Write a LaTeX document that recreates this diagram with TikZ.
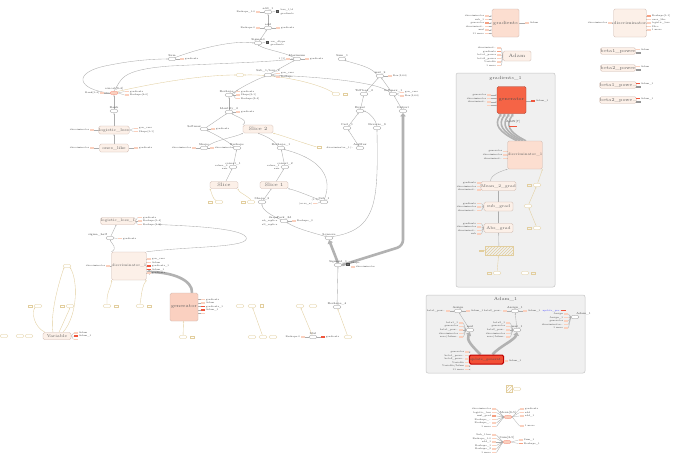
\documentclass[tikz,border=0pt]{standalone}
\usepackage{fontspec}
\usetikzlibrary{shapes.geometric,arrows.meta,positioning,calc,patterns}
\definecolor{opline}{RGB}{150,150,150}
\definecolor{edgegrey}{RGB}{172,172,172}
\definecolor{fatgrey}{RGB}{178,178,178}
\definecolor{yelline}{RGB}{226,206,158}
\definecolor{metafill}{RGB}{252,240,232}
\definecolor{metaline}{RGB}{205,182,172}
\definecolor{gradfill}{RGB}{252,222,208}
\definecolor{genfill}{RGB}{250,208,192}
\definecolor{hotfill}{RGB}{245,100,70}
\definecolor{chiplight}{RGB}{250,208,190}
\definecolor{chipmid}{RGB}{246,160,130}
\definecolor{chipred}{RGB}{240,85,60}
\definecolor{contfill}{RGB}{240,240,240}
\definecolor{contline}{RGB}{196,196,196}
\definecolor{updfill}{RGB}{242,80,55}
\pgfdeclarelayer{bg}
\pgfdeclarelayer{edges}
\pgfsetlayers{bg,edges,main}

\begin{document}
\begin{tikzpicture}[x=1pt, y=-1pt,
    op/.style={ellipse, draw=opline, fill=white, line width=0.3pt,
        minimum width=8pt, minimum height=3.6pt, inner sep=0pt},
    yop/.style={op, draw=yelline},
    hotop/.style={op, fill=chiplight, draw=chipred!70},
    meta/.style={rectangle, rounded corners=1.5pt, draw=metaline, fill=metafill,
        line width=0.35pt, inner sep=0pt, font=\fontsize{4.1}{5}\selectfont, text=black!62},
    cont/.style={rectangle, rounded corners=2pt, draw=contline, fill=contfill, line width=0.5pt},
    title/.style={font=\fontsize{4.5}{5}\selectfont, text=black!65, inner sep=0pt},
    oplbl/.style={font=\fontsize{2.8}{3}\selectfont, inner sep=0.2pt, text=black!75},
    lbl/.style={font=\fontsize{2.4}{2.6}\selectfont, inner sep=0.3pt, text=black!75},
    chip/.style={rectangle, fill=chiplight, minimum width=4.5pt, minimum height=1.8pt, inner sep=0pt},
    chipm/.style={chip, fill=chipmid},
    chipr/.style={chip, fill=chipred},
    ychip/.style={chip, fill=none, draw=yelline, line width=0.2pt},
    icon/.style={rectangle, draw=black!70, fill=black!55, minimum size=2.6pt, inner sep=0pt},
    edge/.style={draw=edgegrey, line width=0.35pt, -{Stealth[length=1.4pt,width=1.2pt]}},
    stub/.style={draw=edgegrey, line width=0.25pt},
    yedge/.style={edge, draw=yelline},
    fat/.style={draw=fatgrey, line width=2.6pt, -{Triangle[length=3.5pt,width=5.5pt]}},
    bundle/.style={draw=fatgrey, line width=1.6pt, -{Triangle[length=2.5pt,width=3pt]}}
]
\begin{pgfonlayer}{bg}
\fill[white] (0,0) rectangle (690,466);
\node[cont, minimum width=99pt, minimum height=214pt] (grad1box) at (505.5,180) {};
\node[cont, minimum width=159pt, minimum height=78pt] (adam1box) at (505.5,334) {};
\end{pgfonlayer}
\useasboundingbox (0,0) rectangle (690,466);

% top spine
\node[op, label={[oplbl]90:add\_1}] (add1) at (268,12) {};
\node[chip, label={[lbl]180:Reshape\_1:0}] (add1-in) at (258,12) {};
\node[icon] (add1-ic) at (277,11) {};
\node[lbl, anchor=west] (add1-o1) at (280,10) {loss\_1/d};
\node[lbl, anchor=west] (add1-o2) at (280,13.5) {gradients};
\node[op, label={[oplbl]90:add}] (add) at (268,28) {};
\node[chip, label={[lbl]180:Reshape:0}] (add-in) at (258,28) {};
\node[chip, label={[lbl]0:gradients}] (add-out) at (278,28) {};
\node[op, label={[oplbl]90:Sigmoid}] (sig) at (258,43) {};
\node[icon] (sig-ic) at (267,42) {};
\node[lbl, anchor=west] (sig-o1) at (270,41.5) {var\_dtype};
\node[lbl, anchor=west] (sig-o2) at (270,44.5) {gradients};

\node[op, label={[oplbl]90:Sum}] (sum) at (172,59) {};
\node[chip, label={[lbl]0:gradients}] (sum-out) at (182,59) {};
\node[op, label={[oplbl]90:Maximum}] (maxi) at (297,59) {};
\node[chip, label={[lbl]180:{1 {[}1{]}}}] (maxi-in) at (288,59) {};
\node[chip, label={[lbl]0:gradients}] (maxi-out) at (307,59) {};
\node[op, label={[oplbl]90:Sum\_1}] (sum1) at (342,59) {};
\node[op, label={[oplbl]90:Sub\_1/loss\_2}] (subloss) at (268,75) {};
\node[chip, label={[lbl]0:gen\_vars}] (subloss-o1) at (278,73.5) {};
\node[chip, label={[lbl]0:Reshape}] (subloss-o2) at (278,77) {};
\node[yop] (ya) at (240,75) {};
\node[op, label={[oplbl]90:mul\_2}] (mul2) at (380,76) {};
\node[chip, label={[lbl]0:{Rcn(3,64)}}] (mul2-out) at (390,76) {};

% left column
\node[hotop, label={[oplbl]90:concat{[}3-4{]}}] (concat) at (114,93) {};
\node[chip, label={[lbl]180:Rank{[}1-4{]}}] (concat-in) at (102,93) {};
\node[chip, label={[lbl]0:gradients}] (concat-o1) at (127,91.5) {};
\node[chip, label={[lbl]0:Reshape{[}4-0{]}}] (concat-o2) at (127,95) {};
\node[op, label={[oplbl]90:Rank}] (rank) at (114,111) {};
\node[meta, minimum width=29pt, minimum height=8pt] (logloss) at (114,130) {logistic\_loss};
\node[chip, label={[lbl]180:discriminator}] (logloss-in) at (92,130) {};
\node[chip, label={[lbl]0:gen\_vars}] (logloss-o1) at (136,128.5) {};
\node[chip, label={[lbl]0:Shape{[}1-1{]}}] (logloss-o2) at (136,131.5) {};
\node[meta, minimum width=29pt, minimum height=8pt] (ones) at (114,148) {ones\_like};
\node[chip, label={[lbl]180:discriminator}] (ones-in) at (92,148) {};
\node[chip, label={[lbl]0:gradients}] (ones-out) at (136,148) {};

% middle column
\node[op, label={[oplbl]90:Reshape\_2}] (resh2) at (229,95) {};
\node[chip, label={[lbl]0:gradients}] (resh2-o1) at (238,91.5) {};
\node[chip, label={[lbl]0:Shape{[}3-1{]}}] (resh2-o2) at (238,95) {};
\node[chip, label={[lbl]0:Reshape{[}3-4{]}}] (resh2-o3) at (238,98.5) {};
\node[op, label={[oplbl]90:Identity\_2}] (ident2) at (229,112) {};
\node[chip, label={[lbl]0:gradients}] (ident2-out) at (238,112) {};
\node[op, label={[oplbl]150:Softmax}] (softmax) at (204,129) {};
\node[chip, label={[lbl]0:gradients}] (softmax-out) at (213,129) {};
\node[meta, minimum width=30pt, minimum height=8pt, font=\fontsize{4.8}{5}\selectfont] (slice2) at (258,129) {Slice 2};
\node[op, label={[oplbl]90:Shape}] (shape) at (204,148) {};
\node[chip, label={[lbl]180:discriminator}] (shape-in) at (194,148) {};
\node[chip, label={[lbl]0:discriminator}] (shape-out) at (212,148) {};
\node[op, label={[oplbl]90:Reshape}] (reshape) at (237,148) {};
\node[op, label={[oplbl]90:Reshape\_1}] (reshape1) at (281,148) {};

% right of middle
\node[yop] (yb) at (336,94) {};
\node[ychip] (yb-out) at (345,94) {};
\node[op, label={[oplbl]90:ToFloat\_2}] (tofloat2) at (364,94) {};
\node[op, label={[oplbl]90:Softmax\_1}] (softmax1) at (393,94) {};
\node[chip, label={[lbl]0:gen\_vars}] (softmax1-o1) at (402,92.5) {};
\node[chip, label={[lbl]0:{Rcn(3,64)}}] (softmax1-o2) at (402,96) {};
\node[op, label={[oplbl]90:Equal}] (equal) at (360,111) {};
\node[op, label={[oplbl]90:Output}] (output) at (403,111) {};
\node[op, label={[oplbl]90:Cast\_1}] (cast1) at (347,128) {};
\node[op, label={[oplbl]90:Reverse\_3}] (reverse3) at (377,128) {};
\node[op, label={[oplbl]90:ArgMax}] (argmax) at (360,148) {};
\node[lbl, anchor=east] (argmax-in) at (354,148) {discriminator\_1/\dots};
\node[ychip] (argmax-y) at (319,147) {};

% slices
\node[op, label={[oplbl]90:concat\_1}] (concat1) at (233,167) {};
\node[lbl, anchor=east] (concat1-i1) at (228,165.5) {values\_0};
\node[lbl, anchor=east] (concat1-i2) at (228,168.5) {axis};
\node[op, label={[oplbl]90:concat\_2}] (concat2) at (285,167) {};
\node[lbl, anchor=east] (concat2-i1) at (280,165.5) {values\_1};
\node[lbl, anchor=east] (concat2-i2) at (280,168.5) {axis};
\node[meta, minimum width=28pt, minimum height=7pt, font=\fontsize{4.8}{5}\selectfont] (slice) at (224,185) {Slice};
\node[meta, minimum width=28pt, minimum height=7pt, font=\fontsize{4.8}{5}\selectfont] (slice1) at (274,185) {Slice 1};
\node[yop] (yc) at (219,202) {};
\node[ychip] (yc-in) at (210,202) {};
\node[yop] (yd) at (251,202) {};
\node[ychip] (yd-in) at (243,202) {};
\node[op, label={[oplbl]90:Shape\_2}] (shape2) at (262,202) {};
\node[op, label={[oplbl]90:Sub\_1}] (sub1) at (324,202) {};
\node[lbl, anchor=east] (sub1-i1) at (319,200) {(1:1)};
\node[chip, label={[lbl]180:(ss.ss\_n)}] (sub1-i2) at (315,203.5) {};
\node[op, label={[oplbl]90:Pack\_3d}] (pack) at (284,221) {};
\node[lbl, anchor=east] (pack-i1) at (278,217.5) {Shape};
\node[lbl, anchor=east] (pack-i2) at (278,221) {nb\_replica};
\node[lbl, anchor=east] (pack-i3) at (278,224.5) {all\_replica};
\node[chip, label={[lbl]0:Reshape\_3}] (pack-out) at (294,221) {};
\node[op, label={[oplbl]90:Squeeze}] (squeeze) at (329,238) {};
\node[op, label={[oplbl]90:Sigmoid\_1}] (lossop) at (338,265) {};
\node[icon] (lossop-ic) at (347.5,264) {};
\node[lbl, anchor=west] (lossop-o1) at (350.5,263.2) {Shape};
\node[chip, label={[lbl]0:discriminator}] (lossop-o2) at (353,267) {};
\node[op, label={[oplbl]90:Reshape\_4}] (reshape4) at (337,307) {};
\node[op, label={[oplbl]90:Mul}] (mulb) at (313,337) {};
\node[chip, label={[lbl]180:Reshape:0}] (mulb-in) at (303,337) {};
\node[chipr, label={[lbl]0:gradients}] (mulb-out) at (323,337) {};
\node[yop] (ye) at (348,337) {};
\node[yop] (yf) at (300,306) {};
\node[yop] (yg) at (313,306) {};
\node[yop] (yh) at (240,306) {};
\node[yop] (yi) at (252,306) {};
\node[ychip, minimum width=3pt, minimum height=3pt] (yj) at (262,306) {};
\node[yop] (yk) at (252,337) {};
\node[yop] (yl) at (263,337) {};
\node[yop] (ym) at (273,337) {};

% left lower
\node[meta, minimum width=30pt, minimum height=7pt, font=\fontsize{3.8}{5}\selectfont] (logloss1) at (118,221) {logistic\_loss\_1};
\node[chip, label={[lbl]0:gradients}] (logloss1-o1) at (140,217.5) {};
\node[chip, label={[lbl]0:Reshape{[}1-4{]}}] (logloss1-o2) at (140,221) {};
\node[chip, label={[lbl]0:Reshape{[}4-0{]}}] (logloss1-o3) at (140,224.5) {};
\node[op, label={[oplbl]150:sigma\_half}] (sighalf) at (110,238) {};
\node[chip, label={[lbl]0:gradients}] (sighalf-out) at (120,238.5) {};
\node[meta, minimum width=29pt, minimum height=28pt, font=\fontsize{3.6}{4}\selectfont] (disc1) at (129,266) {discriminator\_1};
\node[chip, label={[lbl]180:discriminator}] (disc1-in) at (108,266) {};
\foreach \lab/\sty [count=\i] in {gen\_vars/chip, Adam/chip, gradients\_1/chipr, Adam\_1/chipr, gradients/chip}
    \node[\sty, label={[lbl]0:\lab}] (disc1-o\i) at (149,255.5+3.5*\i) {};
\node[meta, minimum width=28pt, minimum height=28pt, fill=genfill, font=\fontsize{4.6}{5}\selectfont] (gen) at (184,307) {generator};
\foreach \lab/\sty [count=\i] in {gradients/chip, Adam/chip, gradients\_1/chipr, Adam\_1/chipr}
    \node[\sty, label={[lbl]0:\lab}] (gen-o\i) at (203,296+3.5*\i) {};
\node[chip] (gen-o5) at (203,313.5) {};
\node[yop] (yn) at (183,337) {};
\node[ychip] (yn-out) at (192,337) {};
\node[yop] (yo) at (107,306) {};
\node[ychip] (yo-out) at (116,306) {};
\node[yop] (yp) at (140,306) {};
\node[ychip] (yp-out) at (149,306) {};
\node[meta, minimum width=28pt, minimum height=7pt] (var) at (57,336) {Variable};
\node[chip, label={[lbl]0:Adam}] (var-o1) at (76,333) {};
\node[chipr, label={[lbl]0:Adam\_1}] (var-o2) at (76,336.2) {};
\node[chip] (var-o3) at (76,339.4) {};
\node[yop] (yq) at (67,266) {};
\node[yop] (yr) at (38,306) {};
\node[ychip] (yr-in) at (30,306) {};
\node[yop] (ys) at (70,306) {};
\node[ychip] (ys-in) at (62,306) {};
\node[yop] (yt) at (4,336) {};
\node[yop] (yu) at (20,336) {};
\node[yop] (yv) at (29,336) {};

% right panel, top
\node[meta, minimum width=27pt, minimum height=28pt, fill=gradfill, font=\fontsize{4.5}{5}\selectfont] (grads) at (505.5,23) {gradients};
\foreach \lab/\sty [count=\i] in {discriminator/chip, sub\_1/chip, generator/chipm, discriminat\dots/chip, mul/chip, 11 more/chip}
    \node[\sty, label={[lbl]180:\lab}] (grads-in\i) at (487,12.5+3.5*\i) {};
\node[chip, label={[lbl]0:Adam}] (grads-out) at (527,23) {};
\node[meta, minimum width=28pt, minimum height=10pt, font=\fontsize{4.8}{5}\selectfont] (adam) at (517,56) {Adam};
\foreach \lab/\sty [count=\i] in {discriminat\dots/chip, gradients/chipm, beta1\_power/chip, beta2\_power/chip, Variable/chip, 1 more/chip}
    \node[\sty, label={[lbl]180:\lab}] (adam-in\i) at (499,44.5+3.5*\i) {};
\node[meta, minimum width=28pt, minimum height=28pt, font=\fontsize{4.1}{5}\selectfont] (discr) at (630,23) {discriminator};
\node[chip, label={[lbl]180:discriminator}] (discr-in) at (610,23) {};
\foreach \lab/\sty [count=\i] in {Reshape{[}1-1{]}/chipm, ones\_like/chip, logistic\_loss/chip, Slice/chip, 1 more/chip}
    \node[\sty, label={[lbl]0:\lab}] (discr-o\i) at (649,12.5+3.5*\i) {};
\foreach \lab/\y/\sty/\out in {beta1\_power/51/chip/Adam, beta2\_power/68/chip/Adam,
        beta1\_powe\dots/85/chipr/Adam\_1, beta2\_powe\dots/100/chipr/Adam\_1} {
    \node[meta, minimum width=28pt, minimum height=6.5pt, font=\fontsize{4.5}{5}\selectfont] (bp-\y) at (618,\y) {\lab};
    \node[\sty, label={[lbl]0:\out}] (bp-\y-o1) at (638,\y-1.5) {};
    \node[ychip, draw=opline] (bp-\y-o2) at (638,\y+1.5) {};
}

% gradients_1
\node[title] (grad1-title) at (505.5,78) {gradients\_1};
\node[meta, minimum width=29pt, minimum height=27pt, fill=hotfill, draw=chipred!70!black, font=\fontsize{4.5}{5}\selectfont, text=black!70] (hotgen) at (511.5,100) {generator};
\foreach \lab [count=\i] in {generator, discriminator, discriminat\dots, {}}
    \node[chip, label={[lbl]180:\lab}] (hotgen-in\i) at (489,91.5+3.5*\i) {};
\node[chipr, label={[lbl]0:Adam\_1}] (hotgen-out) at (533,101) {};
\node[meta, minimum width=28pt, minimum height=28pt, fill=gradfill, font=\fontsize{3.6}{4}\selectfont] (disc1b) at (525,155) {discriminator\_1};
\foreach \lab [count=\i] in {generator, discriminator, discriminat\dots}
    \node[chip, label={[lbl]180:\lab}] (disc1b-in\i) at (505,148+3.5*\i) {};
\node[meta, minimum width=29pt, minimum height=9pt] (mean2g) at (498.5,186) {Mean\_2\_grad};
\foreach \lab [count=\i] in {gradients, discriminator, discriminat\dots}
    \node[chip, label={[lbl]180:\lab}] (mean2g-in\i) at (479,179.5+3.5*\i) {};
\node[meta, minimum width=29pt, minimum height=9pt] (subg) at (498.5,206.5) {sub\_grad};
\foreach \lab [count=\i] in {gradients, discriminator, discriminat\dots}
    \node[chip, label={[lbl]180:\lab}] (subg-in\i) at (479,200+3.5*\i) {};
\node[meta, minimum width=29pt, minimum height=9pt] (absg) at (498.5,228) {Abs\_grad};
\foreach \lab [count=\i] in {gradients, discriminator, discriminat\dots, sub}
    \node[chip, label={[lbl]180:\lab}] (absg-in\i) at (479,220+3.5*\i) {};
\node[rectangle, draw=yelline, pattern=north east lines, pattern color=yelline,
      minimum width=28pt, minimum height=9pt, inner sep=0pt] (hatch) at (499,250.5) {};
\node[ychip] (hatch-in) at (481,250.5) {};
\node[oplbl] (addn) at (513,121.5) {AddN{[}7{]}};
\node[chipr, minimum width=8pt] (addn-chip) at (513,126.5) {};
\node[yop] (yg1) at (497,273) {};
\node[ychip] (yg1-in) at (489,273) {};
\node[yop] (yg2) at (525,273) {};
\node[ychip] (yg2-out) at (533,273) {};
\node[yop] (yg3) at (537,185) {};
\node[ychip] (yg3-in) at (529,185) {};
\node[yop] (yg4) at (528,206) {};
\node[yop] (yg5) at (537,228) {};
\node[ychip] (yg5-in) at (529,228) {};

% Adam_1
\node[title] (adam1-title) at (505.5,299.5) {Adam\_1};
\node[op, label={[oplbl]90:Assign}] (assign) at (458,311) {};
\node[chip, label={[lbl]180:beta1\_pow\dots}] (assign-in) at (448,311) {};
\node[chip, label={[lbl]0:Adam\_1}] (assign-out) at (468,311) {};
\node[op, label={[oplbl]90:Assign\_1}] (assign1) at (515,311) {};
\node[chip, label={[lbl]180:beta2\_pow\dots}] (assign1-in) at (505,311) {};
\node[chip, label={[lbl]0:Adam\_1}] (assign1-out) at (525,311) {};
\node[lbl, text=blue!70] (updpre) at (552,310.5) {update\_pre\dots};
\node[chipr] (updpre-chip) at (563.5,310.5) {};
\node[op, label={[oplbl]60:Adam\_1}] (adamgrp) at (575,317) {};
\foreach \lab [count=\i] in {Assign, Assign\_1, generator, discriminator\dots, 1 more}
    \node[chip, label={[lbl]180:\lab}] (adamgrp-in\i) at (566,310.5+3.5*\i) {};
\node[op, label={[oplbl]90:mul}] (mul) at (470,330) {};
\foreach \lab [count=\i] in {beta1\_1, generator, beta1\_pow\dots, discriminator, zero/Adam\dots}
    \node[chip, label={[lbl]180:\lab}] (mul-in\i) at (461,319.5+3.5*\i) {};
\node[op, label={[oplbl]90:mul\_1}] (mul1) at (517,330) {};
\foreach \lab [count=\i] in {beta2\_1, generator, beta2\_pow\dots, discriminator, zero/Adam\dots}
    \node[chip, label={[lbl]180:\lab}] (mul1-in\i) at (508,319.5+3.5*\i) {};
\node[meta, minimum width=28pt, minimum height=9pt, fill=updfill, draw=red!75!black,
      line width=1pt, font=\fontsize{3.3}{4}\selectfont, text=black!70] (update) at (486.5,359.5) {update\_generat\dots};
\foreach \lab [count=\i] in {generator, beta1\_powe\dots, beta2\_powe\dots, Variable, Variable/Adam, 11 more}
    \node[chip, label={[lbl]180:\lab}] (update-in\i) at (467,348.5+3.5*\i) {};
\node[chip, label={[lbl]0:Adam\_1}] (update-out) at (506,361) {};

% bottom right
\node[rectangle, draw=yelline, pattern=north east lines, pattern color=yelline,
      minimum width=6pt, minimum height=7pt, inner sep=0pt] (yw) at (509,389) {};
\node[yop] (yw2) at (517,389) {};
\node[hotop, label={[oplbl]90:Mean{[}3-5{]}}] (meanb) at (508,417) {};
\foreach \lab/\sty [count=\i] in {discriminator/chip, logistic\_loss/chip, mul\_grad/chipm, Reshape\_\dots/chip, Reshape\_\dots/chip, 1 more/chip}
    \node[\sty, label={[lbl]180:\lab}] (meanb-in\i) at (494,405.5+3.5*\i) {};
\foreach \lab/\y [count=\i] in {gradients/409, add/412.5, add\_1/416, 1 more/426}
    \node[chip, label={[lbl]0:\lab}] (meanb-o\i) at (522,\y) {};
\node[hotop, label={[oplbl]90:Sum{[}3-5{]}}] (sumb) at (507,442) {};
\foreach \lab [count=\i] in {Sub\_1loss, Reshape\_1:0, add\_1, Reshape\_1, Reshape\_2, 1 more}
    \node[chip, label={[lbl]180:\lab}] (sumb-in\i) at (494,431.5+3.5*\i) {};
\node[chip, label={[lbl]0:Sum\_1}] (sumb-o1) at (521,440) {};
\node[chipm, label={[lbl]0:Reshape\_1}] (sumb-o2) at (521,443.5) {};

\begin{pgfonlayer}{edges}
% top spine
\draw[edge] (add) -- (add1);
\draw[edge] (sig) -- (add);
\draw[edge] (sum.north east) .. controls (200,48) and (235,40) .. (sig.west);
\draw[edge] (maxi.north west) .. controls (284,52) and (266,50) .. (sig.south);
\draw[edge] (concat.west) .. controls (78,90) and (70,72) .. (110,65) .. controls (135,60) and (155,59) .. (sum.west);
\draw[edge] (concat.north) .. controls (122,80) and (118,70) .. (170,66) .. controls (230,63) and (270,62) .. (maxi.west);
\draw[yedge] (concat.north east) .. controls (150,84) and (200,75) .. (ya.west);
\draw[yedge] (yb.north west) .. controls (320,84) and (280,74) .. (ya.east);
\draw[edge] (subloss) -- (maxi);
\draw[edge] (mul2.north west) .. controls (370,66) and (355,64) .. (sum1.south east);
\draw[edge] (softmax1.north west) .. controls (380,82) and (320,77) .. (subloss.east);
\draw[edge] (resh2.north east) .. controls (240,88) and (255,80) .. (subloss.south west);
\draw[edge] (tofloat2) -- (mul2);
\draw[edge] (softmax1) -- (mul2);
\draw[edge] (equal) -- (tofloat2);
\draw[edge] (output) -- (softmax1);
\draw[edge] (cast1) -- (equal);
\draw[edge] (reverse3.north) .. controls (376,120) and (370,113) .. (equal.east);
\draw[edge] (argmax) -- (cast1);
% left column
\draw[edge] (rank) -- (concat);
\draw[edge] (logloss) -- (rank);
\draw[edge] (ones) -- (logloss);
% middle column
\draw[edge] (ident2) -- (resh2);
\draw[edge] (softmax) -- (ident2);
\draw[edge] (slice2.north west) .. controls (250,120) and (236,117) .. (ident2.south east);
\draw[edge] (reshape.north west) .. controls (226,140) and (214,134) .. (softmax.south east);
\draw[edge] (shape.north east) .. controls (214,140) and (236,137) .. (slice2.south west);
\draw[edge] (reshape1.north west) .. controls (275,140) and (265,136) .. (slice2.south);
\draw[yedge] (argmax-y.west) .. controls (300,142) and (284,136) .. (slice2.south east);
\draw[edge] (concat1) -- (reshape);
\draw[edge] (concat2) -- (reshape1);
\draw[edge] (sub1.north) .. controls (330,186) and (332,162) .. (reshape1.south east);
\draw[edge] (slice) -- (concat1);
\draw[edge] (slice1) -- (concat2);
\draw[edge] (shape2) -- (slice1);
\draw[edge] (sub1.north west) .. controls (310,196) and (295,190) .. (slice1.south east);
\draw[yedge] (yd.north) .. controls (248,196) and (238,192) .. (slice.south east);
\draw[yedge] (yc.north west) .. controls (212,198) and (212,193) .. (slice.south west);
\draw[edge] (pack.north west) .. controls (272,216) and (262,210) .. (shape2.south);
\draw[edge] (squeeze.north west) .. controls (310,232) and (295,228) .. (pack.south east);
\draw[edge] (squeeze.north east) .. controls (378,230) and (378,200) .. (reverse3.south);
\draw[fat] (lossop.north) -- (squeeze.south);
\draw[fat, rounded corners=6pt] (lossop.east) -- (403,246) -- (output.south);
\draw[edge] (reshape4) -- (lossop);
\draw[yedge] (ye) -- (reshape4);
\draw[yedge] (mulb) -- (yf);
\draw[yedge] (yl) -- (yi);
% left lower
\draw[edge] (sighalf) -- (logloss1);
\draw[edge] (disc1.north west) .. controls (118,248) and (112,244) .. (sighalf.south);
\draw[edge] (disc1.north east) .. controls (190,246) and (252,248) .. (246,237)
    .. controls (240,228) and (190,226) .. ($(logloss1-o3.east)+(16,0)$);
\draw[fat] ([xshift=8pt]gen.north) .. controls (193,280) and (172,272) .. ([yshift=-6pt]disc1.east);
\draw[yedge] (yo.north) .. controls (106,292) and (112,286) .. (disc1.south west);
\draw[yedge] (yp.north) .. controls (142,292) and (142,286) .. (disc1.south east);
\draw[yedge] (yn) -- (gen);
\draw[yedge] ([xshift=-4pt]var.north) .. controls (50,315) and (58,285) .. (yq.south west);
\draw[yedge] ([xshift=6pt]var.north) .. controls (78,315) and (78,280) .. (yq.south east);
\draw[yedge] ([xshift=-12pt]var.north) .. controls (33,326) and (32,312) .. (yr.south west);
\draw[yedge] ([xshift=2pt]var.north) -- (ys.south);
% stubs to chips
\foreach \f/\t in {add1-in/add1, add-in/add, concat-in/concat, logloss-in/logloss, ones-in/ones,
        shape-in/shape, mulb-in/mulb, disc1-in/disc1, sub1-i2/sub1, maxi-in/maxi}
    \draw[stub] (\f.east) -- (\t.west);
\foreach \f/\t in {add/add-out, sum/sum-out, maxi/maxi-out, subloss/subloss-o1, subloss/subloss-o2,
        mul2/mul2-out, concat/concat-o1, concat/concat-o2, logloss/logloss-o1, logloss/logloss-o2,
        ones/ones-out, resh2/resh2-o1, resh2/resh2-o2, resh2/resh2-o3, ident2/ident2-out,
        softmax/softmax-out, shape/shape-out, softmax1/softmax1-o1, softmax1/softmax1-o2,
        pack/pack-out, mulb/mulb-out, logloss1/logloss1-o1, logloss1/logloss1-o2,
        logloss1/logloss1-o3, sighalf/sighalf-out, var/var-o1, var/var-o2, var/var-o3,
        add1/add1-ic, sig/sig-ic, lossop/lossop-ic}
    \draw[stub] (\f.east) -- (\t.west);
\foreach \i in {1,...,5} \draw[stub] (disc1.east |- disc1-o\i) -- (disc1-o\i.west);
\foreach \i in {1,...,5} \draw[stub] (gen.east |- gen-o\i) -- (gen-o\i.west);
% right panel
\foreach \i in {1,...,6} \draw[edge] (grads-in\i.east) -- (grads.west |- grads-in\i);
\draw[stub] (grads.east |- grads-out) -- (grads-out.west);
\foreach \i in {1,...,6} \draw[edge] (adam-in\i.east) -- (adam.west);
\draw[edge] (discr-in.east) -- (discr.west);
\foreach \i in {1,...,5} \draw[stub] (discr.east |- discr-o\i) -- (discr-o\i.west);
\foreach \i in {1,...,4} \draw[edge] (hotgen-in\i.east) -- (hotgen.west |- hotgen-in\i);
\draw[stub] (hotgen.east |- hotgen-out) -- (hotgen-out.west);
\foreach \a/\b in {-10/-8, -6/-5, -2/-2, 2/1}
    \draw[bundle] ([xshift=\b pt]disc1b.north) .. controls ([shift={(\b-18,-9)}]disc1b.north)
        and ([shift={(\a-8,11)}]hotgen.south) .. ([xshift=\a pt]hotgen.south);
\foreach \i in {1,2,3} {
    \draw[edge] (disc1b-in\i.east) -- (disc1b.west |- disc1b-in\i);
    \draw[edge] (mean2g-in\i.east) -- (mean2g.west);
    \draw[edge] (subg-in\i.east) -- (subg.west);
}
\foreach \i in {1,...,4} \draw[edge] (absg-in\i.east) -- (absg.west);
\draw[edge] ([xshift=-8pt]mean2g.north) .. controls (490,174) and (505,170) .. (disc1b.south west);
\draw[edge] (subg) -- (mean2g);
\draw[edge] (absg) -- (subg);
\draw[edge] (hatch) -- (absg);
\draw[yedge] (hatch-in.east) -- (hatch.west);
\draw[yedge] (yg1) -- (hatch);
\draw[yedge] (yg3) -- (disc1b.south east);
\draw[yedge] (yg4) -- (yg3);
\draw[yedge] (yg5) -- (yg4);
% Adam_1
\draw[stub] (assign-in.east) -- (assign.west);
\draw[stub] (assign.east) -- (assign-out.west);
\draw[stub] (assign1-in.east) -- (assign1.west);
\draw[stub] (assign1.east) -- (assign1-out.west);
\draw[edge] (mul) -- (assign);
\draw[edge] (mul1) -- (assign1);
\foreach \i in {1,...,5} {
    \draw[edge] (mul-in\i.east) -- (mul.west);
    \draw[edge] (mul1-in\i.east) -- (mul1.west);
    \draw[edge] (adamgrp-in\i.east) -- (adamgrp.west);
}
\foreach \i in {1,...,6} \draw[edge] (update-in\i.east) -- (update.west |- update-in\i);
\draw[stub] (update.east |- update-out) -- (update-out.west);
\draw[fat] ([xshift=-6pt]update.north) .. controls (472,346) and (466,340) .. (mul.south);
\draw[fat] ([xshift=6pt]update.north) .. controls (500,346) and (515,340) .. (mul1.south);
% bottom right
\draw[yedge] (yw2) -- (yw);
\foreach \i in {1,...,6} {
    \draw[edge] (meanb-in\i.east) -- (meanb.west);
    \draw[edge] (sumb-in\i.east) -- (sumb.west);
}
\foreach \i in {1,...,4} \draw[stub] (meanb.east) -- (meanb-o\i.west);
\foreach \i in {1,2} \draw[stub] (sumb.east) -- (sumb-o\i.west);
\end{pgfonlayer}
\end{tikzpicture}
\end{document}
